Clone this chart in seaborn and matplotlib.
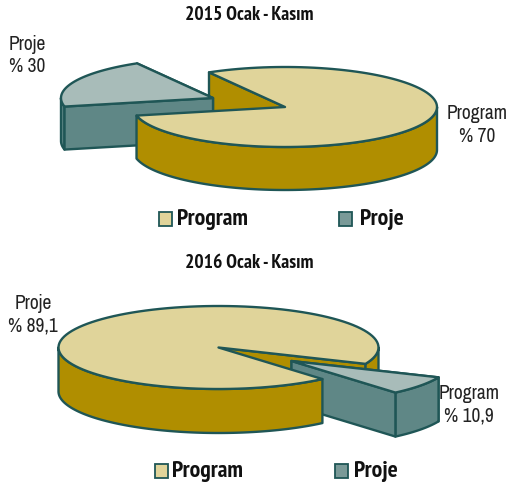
import numpy as np
import seaborn as sns
import matplotlib.pyplot as plt
from matplotlib import font_manager
from matplotlib.patches import Polygon, Rectangle

sns.set_theme(style="white")

# Narrow faces when there are any, otherwise plain Liberation at a smaller size
installed = {f.name for f in font_manager.fontManager.ttflist}
if 'Archivo Narrow' in installed and 'PT Sans Narrow' in installed:
    font_plain, font_bold = ['Archivo Narrow', 'Liberation Sans'], ['PT Sans Narrow', 'Liberation Sans']
    size_title, size_label, size_key = 14, 14, 17
else:
    font_plain, font_bold = ['Liberation Sans', 'DejaVu Sans'], ['Liberation Sans', 'DejaVu Sans']
    size_title, size_label, size_key = 11.2, 11.5, 12.7

# Values as printed on the chart
titles = ['2015 Ocak - Kasım', '2016 Ocak - Kasım']
legend_labels = ['Program', 'Proje']
large_share = [70, 89.1]
small_share = [30, 10.9]
large_labels = ['Program\n% 70', 'Proje\n% 89,1']
small_labels = ['Proje\n% 30', 'Program\n% 10,9']

# Colours: top face, wall
program_top, program_wall, proje_top, proje_wall, proje_key = (
    '#E0D49A', '#B08E00', '#A8BCB9', '#5F8786', '#7A9A98')
edge = '#1F5656'

# the 3D view in the original squeezes the gap, the slices do not measure true
SQUEEZE = 0.67

fig = plt.figure(figsize=(5.08, 4.86), dpi=100)
ax = fig.add_axes([0, 0, 1, 1])
ax.set_xlim(0, 508)
ax.set_ylim(486, 0)
ax.axis('off')


def arc(c, rx, ry, a0, a1):
    t = np.radians(np.linspace(a0, a1, 120))
    return np.column_stack([c[0] + rx * np.cos(t), c[1] - ry * np.sin(t)])


def shape(pts, color):
    ax.add_patch(Polygon(pts, closed=True, facecolor=color, edgecolor=edge,
                         linewidth=1.7, joinstyle='round'))


def top(c, rx, ry, a0, a1, color):
    shape(np.vstack([[c], arc(c, rx, ry, a0, a1)]), color)


def rim(c, rx, ry, depth, a0, a1, color):
    pts = arc(c, rx, ry, a0, a1)
    shape(np.vstack([pts, pts[::-1] + [0, depth]]), color)


def wall(c, rx, ry, depth, a, color):
    p = arc(c, rx, ry, a, a)[0]
    shape([c, p, p + [0, depth], np.array(c) + [0, depth]], color)


def key(x_box, x_text, y, label, color):
    ax.add_patch(Rectangle((x_box, y - 7), 12.5, 13.5, facecolor=color,
                           edgecolor=edge, linewidth=1.3))
    ax.text(x_text, y, label, fontsize=size_key, fontweight='bold', family=font_bold,
            color='#111111', va='center', ha='left')


# 2015 pie
c, rx, ry, depth = (285, 107), 152, 40, 43
g0 = 120
g1 = g0 + small_share[0] * 3.6 * SQUEEZE
c2 = (213, 98)
wall(c, rx, ry, depth, g0, program_wall)
wall(c2, rx, ry, depth, g0, proje_wall)
rim(c2, rx, ry, depth, 180, g1, proje_wall)
wall(c2, rx, ry, depth, g1, proje_wall)
top(c2, rx, ry, g0, g1, proje_top)
rim(c, rx, ry, depth, g1, 360, program_wall)
top(c, rx, ry, g1, g0 + 360, program_top)

# 2016 pie
c, rx, ry, depth = (218.5, 347.5), 160, 41.5, 44
g0 = -49.5
g1 = g0 + small_share[1] * 3.6 * SQUEEZE
c2 = (291.5, 361)
wall(c, rx, ry, depth, g1, program_wall)
rim(c, rx, ry, depth, g1, 0, program_wall)
wall(c2, rx, ry, depth, g1, proje_wall)
rim(c2, rx, ry, depth, g0, g1, proje_wall)
wall(c2, rx, ry, depth, g0, proje_wall)
top(c2, rx, ry, g0, g1, proje_top)
rim(c, rx, ry, depth, 180, g0 + 360, program_wall)
top(c, rx, ry, g1, g0 + 360, program_top)

# Titles
for y, title in zip([15.5, 262.5], titles):
    ax.text(249, y, title, fontsize=size_title, fontweight='bold', family=font_bold,
            color='#111111', ha='center', va='center')

# Slice labels
label_style = dict(fontsize=size_label, family=font_plain, color='#222222', va='center', linespacing=1.25)
ax.text(9, 55.5, small_labels[0], ha='left', **label_style)
ax.text(477, 125, large_labels[0], ha='center', multialignment='center', **label_style)
ax.text(33, 315, large_labels[1], ha='center', multialignment='center', **label_style)
ax.text(469, 405, small_labels[1], ha='center', multialignment='center', **label_style)

# Legends
key(159, 177, 219, legend_labels[0], program_top)
key(339, 360, 219, legend_labels[1], proje_key)
key(155, 172, 471, legend_labels[0], program_top)
key(335, 354, 471, legend_labels[1], proje_key)

plt.savefig('out.png', dpi=100)
